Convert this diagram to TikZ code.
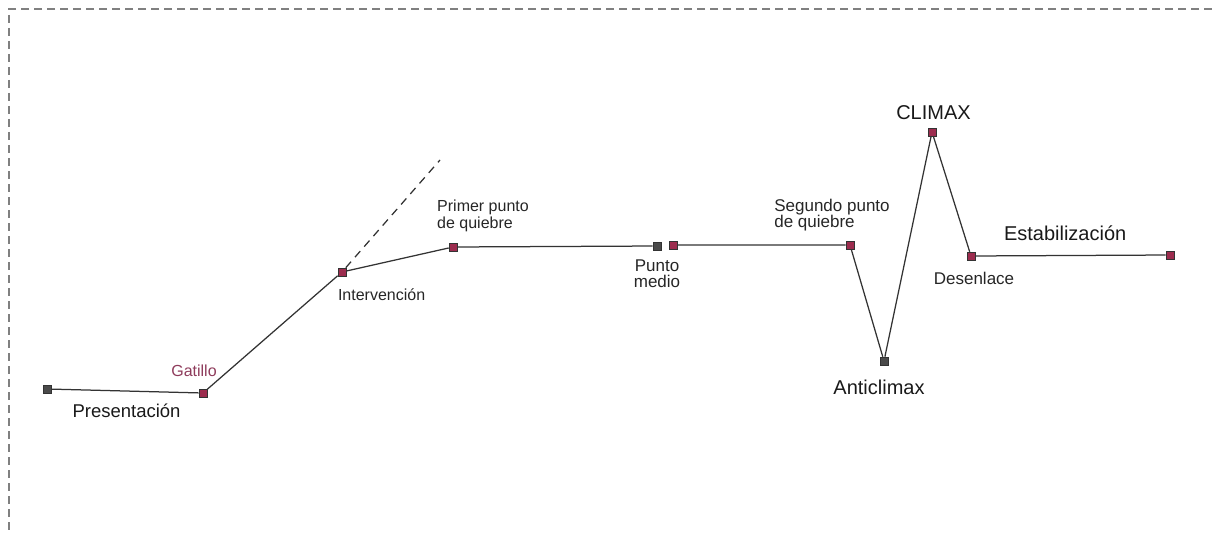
\documentclass[tikz,border=0pt]{standalone}
\usepackage{fontspec}
\setmainfont{Liberation Sans}
\usetikzlibrary{positioning}

\definecolor{granate}{HTML}{9C2C4E}
\definecolor{gatillo}{HTML}{8E3B5B}
\definecolor{grisoscuro}{HTML}{4A4A4A}

\tikzset{
  hito/.style={rectangle, draw=black!80, line width=0.6pt, minimum size=8pt, inner sep=0pt},
  hitorojo/.style={hito, fill=granate},
  hitogris/.style={hito, fill=grisoscuro},
  etiq/.style={font=\fontsize{16}{16.5}\selectfont, align=left, inner sep=1pt, text=black!85},
  etiqm/.style={etiq, font=\fontsize{17}{16}\selectfont},
  grande/.style={font=\fontsize{20}{22}\selectfont, inner sep=1pt, text=black!90},
  trazo/.style={line width=1.25pt, draw=black!80}
}

\begin{document}
\begin{tikzpicture}[x=1pt, y=-1pt]
  \useasboundingbox (0,0) rectangle (1212,535);
  \draw[gray, line width=1.4pt, dash pattern=on 8pt off 5pt] (1212,9) -- (9,9) -- (9,535);

  \node[hitogris] (pres) at (47,389) {};
  \node[hitorojo] (gat) at (203,393) {};
  \node[hitorojo] (interv) at (342,272) {};
  \node[hitorojo] (primer) at (453,247) {};
  \node[hitogris] (medioA) at (657,246) {};
  \node[hitorojo] (medioB) at (673,245) {};
  \node[hitorojo] (segundo) at (850,245) {};
  \node[hitogris] (anti) at (884,361) {};
  \node[hitorojo] (climax) at (932,132) {};
  \node[hitorojo] (desen) at (971,256) {};
  \node[hitorojo] (fin) at (1170,255) {};
  \coordinate (rumbo) at (440,160);

  \node[grande, font=\fontsize{18.5}{21}\selectfont, below right=9pt and 20pt of pres] {Presentación};
  \node[etiq, text=gatillo, above=11pt of gat, xshift=-9pt] {Gatillo};
  \node[etiq, below right=11pt and -9.5pt of interv] {Intervención};
  \node[etiq, above=10pt of primer, xshift=30pt] {Primer punto\\de quiebre};
  \node[etiqm, align=center, below=8pt of medioA] {Punto\\medio};
  \node[etiqm, above=8pt of segundo, xshift=-18pt] {Segundo punto\\de quiebre};
  \node[grande, above=7pt of climax, xshift=1.5pt] {CLIMAX};
  \node[grande, below=14pt of anti, xshift=-5pt] {Anticlimax};
  \node[etiqm, below=11pt of desen, xshift=3pt] {Desenlace};
  \node[grande, above right=9.5pt and 27.5pt of desen] {Estabilización};

  \draw[trazo] (pres) -- (gat) -- (interv) -- (primer) -- (medioA);
  \draw[trazo] (medioB) -- (segundo) -- (anti) -- (climax) -- (desen) -- (fin);
  \draw[trazo, dash pattern=on 8pt off 6pt] (interv) -- (rumbo);
\end{tikzpicture}
\end{document}
